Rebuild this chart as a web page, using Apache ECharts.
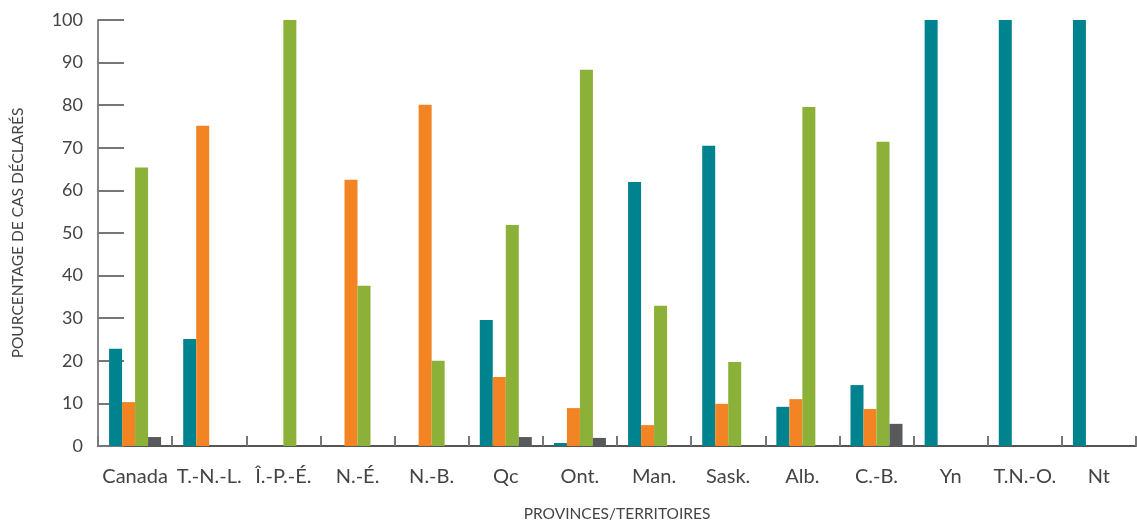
<!DOCTYPE html>
<html>
<head>
<meta charset="utf-8">
<script src="https://cdn.jsdelivr.net/npm/echarts@6/dist/echarts.min.js"></script>
<style>
  html, body { margin: 0; padding: 0; background: #fff; }
  #chart { width: 1137px; height: 524px; }
</style>
</head>
<body>
<div id="chart"></div>
<script>
  // provinces / territories
  const categories = ['Canada', 'T.-N.-L.', 'Î.-P.-É.', 'N.-É.', 'N.-B.', 'Qc', 'Ont.', 'Man.', 'Sask.', 'Alb.', 'C.-B.', 'Yn', 'T.N.-O.', 'Nt'];

  // percentage of reported cases, one array per series (colour)
  const tealValues   = [22.8, 25.1, 0, 0, 0, 29.6, 0.7, 62.0, 70.5, 9.2, 14.3, 100, 100, 100];
  const orangeValues = [10.3, 75.2, 0, 62.5, 80.1, 16.2, 8.9, 4.9, 9.9, 11.0, 8.7, 0, 0, 0];
  const greenValues  = [65.4, 0, 100, 37.6, 20.0, 51.9, 88.3, 32.9, 19.7, 79.6, 71.4, 0, 0, 0];
  const grayValues   = [2.1, 0, 0, 0, 0, 2.1, 1.9, 0, 0, 0, 5.2, 0, 0, 0];

  const yTicks = { min: 0, max: 100, interval: 10 };

  const font = 'Lato, "Open Sans", sans-serif';

  const chart = echarts.init(document.getElementById('chart'));

  function bar(name, data, color) {
    return {
      name: name,
      type: 'bar',
      data: data,
      barWidth: 13,
      barGap: '0%',
      itemStyle: { color: color },
      silent: true
    };
  }

  chart.setOption({
    animation: false,
    backgroundColor: '#fff',
    grid: { left: 98, right: 1, top: 20, bottom: 78, containLabel: false, outerBoundsMode: 'none' },
    xAxis: {
      type: 'category',
      data: categories,
      name: 'PROVINCES/TERRITOIRES',
      nameLocation: 'middle',
      nameGap: 60,
      nameTextStyle: { fontFamily: font, fontSize: 15.5, color: '#444' },
      axisLine: { lineStyle: { color: '#555', width: 2 } },
      axisTick: { show: true, inside: true, length: 10, lineStyle: { color: '#777', width: 2 } },
      axisLabel: { fontFamily: font, fontSize: 20, color: '#444', margin: 21, interval: 0 },
      splitLine: { show: false }
    },
    yAxis: {
      type: 'value',
      min: yTicks.min,
      max: yTicks.max,
      interval: yTicks.interval,
      name: 'POURCENTAGE DE CAS DÉCLARÉS',
      nameLocation: 'middle',
      nameGap: 72,
      nameTextStyle: { fontFamily: font, fontSize: 15.5, color: '#444' },
      axisLine: { show: true, lineStyle: { color: '#888', width: 2 } },
      axisTick: { show: true, inside: true, length: 26, lineStyle: { color: '#777', width: 2 } },
      axisLabel: { fontFamily: font, fontSize: 18, color: '#444', margin: 15 },
      splitLine: { show: false }
    },
    series: [
      bar('teal', tealValues, '#00838F'),
      bar('orange', orangeValues, '#F38423'),
      bar('green', greenValues, '#8CB138'),
      bar('gray', grayValues, '#58595B')
    ]
  });
</script>
</body>
</html>
